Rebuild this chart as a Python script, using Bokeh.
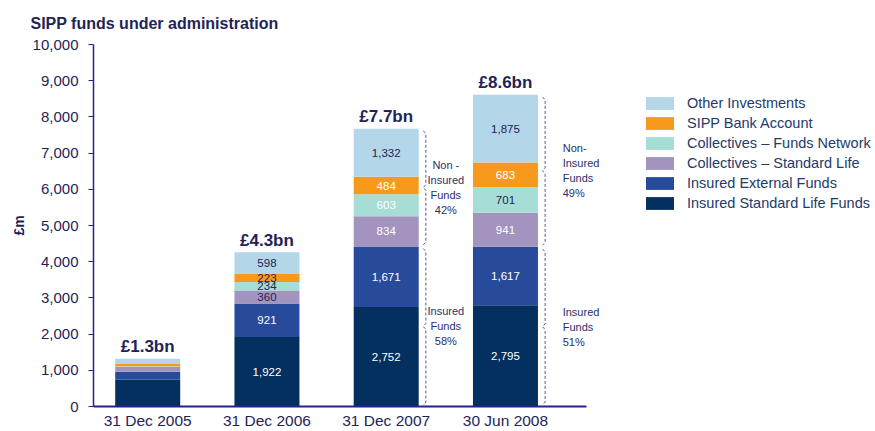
from bokeh.plotting import figure
from bokeh.models import (Range1d, FixedTicker, NumeralTickFormatter, Legend,
                          LegendItem, ColumnDataSource)
from bokeh.core.properties import value
from bokeh.embed import file_html
from bokeh.resources import INLINE

# ---------------- data ----------------
dates = ["31 Dec 2005", "31 Dec 2006", "31 Dec 2007", "30 Jun 2008"]
insured_sl = [740, 1922, 2752, 2795]
insured_ext = [220, 921, 1671, 1617]
coll_sl = [130, 360, 834, 941]
coll_fn = [20, 234, 603, 701]
bank = [80, 223, 484, 683]
other = [130, 598, 1332, 1875]
totals_text = ["£1.3bn", "£4.3bn", "£7.7bn", "£8.6bn"]
series_names = ["Insured Standard Life Funds", "Insured External Funds",
                "Collectives – Standard Life", "Collectives – Funds Network",
                "SIPP Bank Account", "Other Investments"]
y_ticks = [0, 1000, 2000, 3000, 4000, 5000, 6000, 7000, 8000, 9000, 10000]
brace_bars = [2, 3]
brace_non_head = ["Non -\nInsured\nFunds", "Non-\nInsured\nFunds"]
brace_ins_head = ["Insured\nFunds", "Insured\nFunds"]

# ---------------- style ----------------
FONT = "Liberation Sans"
NAVY = "#1f2456"
AXIS = "#23238c"
colors = ["#03305f", "#284a9b", "#a293bf", "#a6ddd5", "#f7991c", "#b3d6e8"]
# label colour per series, per bar (True = white)
white_lab = [[True] * 4, [True] * 4,
             [False, False, True, True],
             [False, False, True, False],
             [False, False, True, True],
             [False] * 4]
BAR_W = 0.545
X0, X_AXIS_END, X_END = -0.4545, 3.680, 6.103

series = [insured_sl, insured_ext, coll_sl, coll_fn, bank, other]
keys = ["s%d" % i for i in range(len(series))]
xs = list(range(len(dates)))

src = ColumnDataSource(dict(x=xs, **{k: v for k, v in zip(keys, series)}))

p = figure(width=875, height=431,
           min_border_left=93, min_border_right=0,
           min_border_top=43, min_border_bottom=24,
           x_range=Range1d(X0, X_END), y_range=Range1d(0, 10000),
           output_backend="svg", toolbar_location=None, tools="")
p.outline_line_color = None
p.grid.visible = False
p.background_fill_color = "white"
p.border_fill_color = "white"

rends = p.vbar_stack(keys, x="x", width=BAR_W, color=colors, source=src,
                     line_color=None)

# segment value labels (bars 2-4)
lx, ly, lt, lc = [], [], [], []
for b in range(len(dates)):
    bottom = 0
    for s, vals in enumerate(series):
        v = vals[b]
        if b > 0:
            lx.append(b)
            ly.append(bottom + v / 2)
            lt.append(f"{v:,}")
            lc.append("white" if white_lab[s][b] else NAVY)
        bottom += v
p.text(x="x", y="y", text="t", text_color="c",
       source=ColumnDataSource(dict(x=lx, y=ly, t=lt, c=lc)),
       text_font=value(FONT), text_font_size="11.5px",
       text_align="center", text_baseline="middle")

# totals
totals = [sum(vals[b] for vals in series) for b in range(len(dates))]
p.text(x=xs, y=totals, text=totals_text, text_font=value(FONT),
       text_font_size="17px", text_font_style="bold", text_color=NAVY,
       text_align="center", text_baseline="alphabetic", y_offset=-12)

# braces
bx, by = [], []
for b in brace_bars:
    ins = series[0][b] + series[1][b]
    tot = totals[b]
    x0 = b + BAR_W / 2 + 0.06
    tip = x0 - 0.022
    d = 80
    for lo, hi in [(0, ins), (ins, tot)]:
        lo2, hi2 = lo + 40, hi - 60
        mid = (lo + hi) / 2
        bx.append([tip, x0, x0, tip, x0, x0, tip])
        by.append([hi2, hi2 - d, mid + d, mid, mid - d, lo2 + d, lo2])
p.multi_line(bx, by, line_color="#5b5b8e", line_width=1, line_dash="3 2")

# brace texts
for i, b in enumerate(brace_bars):
    ins = series[0][b] + series[1][b]
    tot = totals[b]
    pct_ins = round(100 * ins / tot)
    pct_non = 100 - pct_ins
    t_non = f"{brace_non_head[i]}\n{pct_non}%"
    t_ins = f"{brace_ins_head[i]}\n{pct_ins}%"
    if i == 0:
        tx, al = b + 0.50, "center"
    else:
        tx, al = b + 0.48, "left"
    p.text(x=[tx, tx], y=[(ins + tot) / 2, ins / 2], text=[t_non, t_ins],
           text_font=value(FONT), text_font_size="11px", text_color="#2a2f6a",
           text_align=al, text_baseline="middle", text_line_height=1.25)

# axes
p.yaxis.ticker = FixedTicker(ticks=y_ticks)
p.yaxis.formatter = NumeralTickFormatter(format="0,0")
p.yaxis.minor_tick_line_color = None
p.yaxis.major_tick_in = 0
p.yaxis.major_tick_out = 5
p.yaxis.major_tick_line_color = AXIS
p.yaxis.axis_line_color = AXIS
p.yaxis.axis_line_width = 1.5
p.yaxis.major_label_standoff = 10
p.yaxis.major_label_text_font = FONT
p.yaxis.major_label_text_font_size = "15px"
p.yaxis.major_label_text_color = NAVY
p.yaxis.axis_label = "£m"
p.yaxis.axis_label_text_font = FONT
p.yaxis.axis_label_text_font_size = "14px"
p.yaxis.axis_label_text_font_style = "bold"
p.yaxis.axis_label_text_color = NAVY
p.yaxis.axis_label_standoff = 3

p.xaxis.bounds = (X0, X_AXIS_END)
p.xaxis.ticker = FixedTicker(ticks=xs)
p.xaxis.major_label_overrides = {i: d for i, d in enumerate(dates)}
p.xaxis.minor_tick_line_color = None
p.xaxis.major_tick_line_color = None
p.xaxis.major_tick_in = 0
p.xaxis.major_tick_out = 0
p.xaxis.axis_line_color = AXIS
p.xaxis.axis_line_width = 2
p.xaxis.major_label_standoff = 5
p.xaxis.major_label_text_font = FONT
p.xaxis.major_label_text_font_size = "15.5px"
p.xaxis.major_label_text_color = NAVY

# title
p.title.text = "SIPP funds under administration"
p.title.text_font = FONT
p.title.text_font_size = "16px"
p.title.text_font_style = "bold"
p.title.text_color = NAVY
p.title.align = "left"
p.title.offset = -63
p.title.standoff = 25

# legend (inside the wide frame, to the right of the axis end)
items = [LegendItem(label=n, renderers=[r]) for n, r in zip(series_names, rends)]
legend = Legend(items=items[::-1], location=(549, 195), margin=0, padding=0,
                border_line_color=None, background_fill_alpha=0,
                glyph_width=35, glyph_height=16, label_height=16,
                label_standoff=10, spacing=4,
                label_text_font=FONT, label_text_font_size="14.5px",
                label_text_color="#233a6b")
p.add_layout(legend)

open("out.html", "w").write(file_html(p, INLINE))
